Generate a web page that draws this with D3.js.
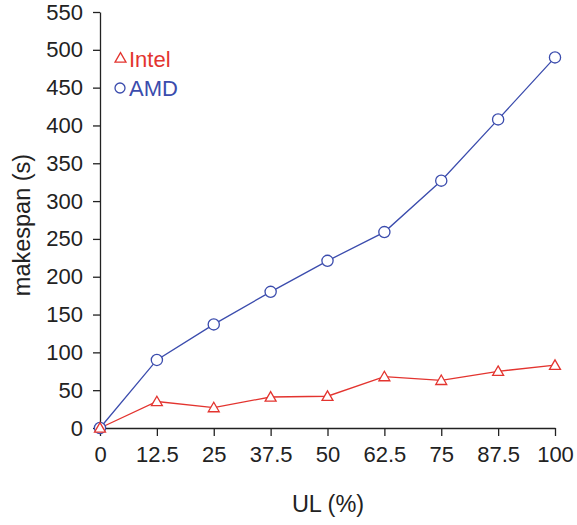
<!DOCTYPE html>
<html>
<head>
<meta charset="utf-8">
<script src="https://cdn.jsdelivr.net/npm/d3@7"></script>
<style>
  body { margin: 0; background: #fff; }
  svg text { font-family: "Liberation Sans", Arial, sans-serif; }
</style>
</head>
<body>
<svg width="577" height="525"></svg>
<script>
var ulPct = [0, 12.5, 25, 37.5, 50, 62.5, 75, 87.5, 100];
var intel = [0, 35, 27, 41, 42, 68, 63, 75, 83];
var amd = [0, 90, 137, 180, 221, 259, 327, 408, 490];
var yTicks = [0, 50, 100, 150, 200, 250, 300, 350, 400, 450, 500, 550];

var svg = d3.select("svg");
var red = "#e3342f", blue = "#3b4cad";

var x = d3.scaleLinear().domain([0, 100]).range([100, 555]);
var y = d3.scaleLinear().domain([0, 550]).range([428, 12]);

// axes
svg.append("g")
    .attr("transform", "translate(100,0)")
    .call(d3.axisLeft(y).tickValues(yTicks).tickSize(7).tickPadding(10).tickSizeOuter(0));
svg.append("g")
    .attr("transform", "translate(0,428)")
    .call(d3.axisBottom(x).tickValues(ulPct).tickFormat(d3.format("")).tickSize(8).tickPadding(10).tickSizeOuter(0));

svg.selectAll(".tick text").attr("font-size", 22).attr("fill", "#222")
    .style("font-family", "'Liberation Sans', Arial, sans-serif");
svg.selectAll(".domain, .tick line").attr("stroke", "#222").attr("stroke-width", 1.3);

// axis titles
svg.append("text")
    .attr("transform", "translate(30,225) rotate(-90)")
    .attr("text-anchor", "middle")
    .attr("font-size", 23.5).attr("fill", "#222")
    .text("makespan (s)");
svg.append("text")
    .attr("x", 328).attr("y", 512)
    .attr("text-anchor", "middle")
    .attr("font-size", 23.5).attr("fill", "#222")
    .text("UL (%)");

var line = d3.line()
    .x(function(d, i) { return x(ulPct[i]); })
    .y(function(d) { return y(d); });

svg.append("path").datum(amd).attr("d", line)
    .attr("fill", "none").attr("stroke", blue).attr("stroke-width", 1.3);
svg.append("path").datum(intel).attr("d", line)
    .attr("fill", "none").attr("stroke", red).attr("stroke-width", 1.3);

var tri = d3.symbol().type(d3.symbolTriangle).size(52);

svg.selectAll(".amd").data(amd).enter().append("circle")
    .attr("cx", function(d, i) { return x(ulPct[i]); })
    .attr("cy", function(d) { return y(d); })
    .attr("r", 5.6)
    .attr("fill", "#fff").attr("stroke", blue).attr("stroke-width", 1.3);

svg.selectAll(".intel").data(intel).enter().append("path")
    .attr("d", tri)
    .attr("transform", function(d, i) { return "translate(" + x(ulPct[i]) + "," + (y(d) + 1) + ")"; })
    .attr("fill", "#fff").attr("stroke", red).attr("stroke-width", 1.3);

// legend
svg.append("path").attr("d", tri)
    .attr("transform", "translate(120.5,59)")
    .attr("fill", "#fff").attr("stroke", red).attr("stroke-width", 1.3);
svg.append("text").attr("x", 129).attr("y", 66.5)
    .attr("font-size", 22).attr("fill", red).text("Intel");
svg.append("circle").attr("cx", 120).attr("cy", 88).attr("r", 5)
    .attr("fill", "#fff").attr("stroke", blue).attr("stroke-width", 1.3);
svg.append("text").attr("x", 129).attr("y", 95.5)
    .attr("font-size", 22).attr("fill", blue).text("AMD");
</script>
</body>
</html>
